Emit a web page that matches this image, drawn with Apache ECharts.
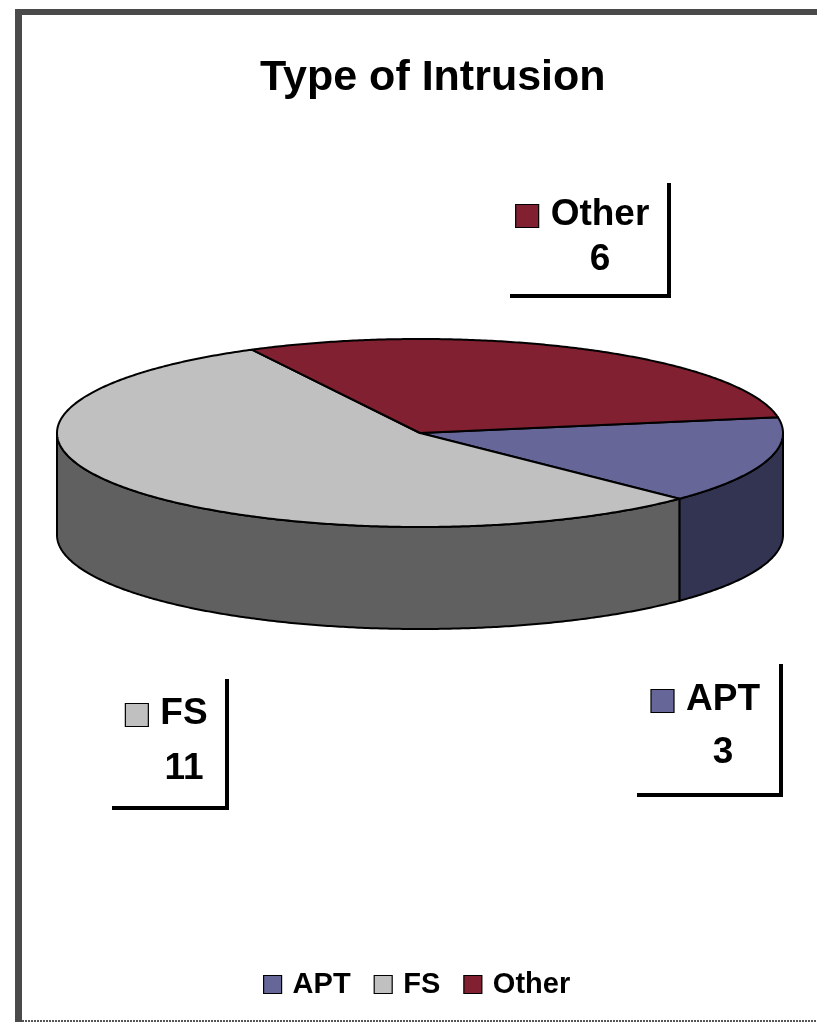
<!DOCTYPE html>
<html>
<head>
<meta charset="utf-8">
<title>Type of Intrusion</title>
<script src="https://cdn.jsdelivr.net/npm/echarts@6/dist/echarts.min.js"></script>
<style>
  html, body { margin: 0; padding: 0; background: #fff; }
  #chart { width: 817px; height: 1022px; }
</style>
</head>
<body>
<div id="chart"></div>
<script>
// Intrusion counts by type
const categories = ['APT', 'FS', 'Other'];
const values = [3, 11, 6];

// Top-face and side-face colours for each slice
const topColors = ['#666699', '#C0C0C0', '#802030'];
const sideColors = ['#333352', '#606060', '#401018'];

const FONT = '"Liberation Sans", Arial, Helvetica, sans-serif';

// Projected 3D pie: ellipse centre, radii, thickness and start angle (degrees, clockwise)
const pie = { cx: 420, cy: 433, rx: 363, ry: 94, depth: 102, startAngle: 9.6 };

// Where each data label box sits
const labelBoxes = {
  APT:   { cx: 723, nameY: 700, valueY: 753, left: 637, top: 664, right: 781, bottom: 795 },
  FS:    { cx: 184, nameY: 714, valueY: 769, left: 112, top: 679, right: 227, bottom: 808 },
  Other: { cx: 600, nameY: 215, valueY: 260, left: 510, top: 183, right: 669, bottom: 296 }
};

const total = values.reduce((a, b) => a + b, 0);
const sliceAngles = [];
let acc = pie.startAngle;
values.forEach(v => {
  const sweep = v / total * 360;
  sliceAngles.push({ from: acc - sweep, to: acc });
  acc -= sweep;
});

const measureCtx = document.createElement('canvas').getContext('2d');
function textWidth(str, size) {
  measureCtx.font = 'bold ' + size + 'px ' + FONT;
  return measureCtx.measureText(str).width;
}

function rimPoint(tDeg, dy) {
  const t = tDeg * Math.PI / 180;
  return [pie.cx + pie.rx * Math.cos(t), pie.cy - pie.ry * Math.sin(t) + (dy || 0)];
}

function arcPoints(a, b, dy) {
  // points from angle a to angle b (either direction), 0.5 degree steps
  const pts = [];
  const n = Math.max(2, Math.ceil(Math.abs(b - a) / 0.5));
  for (let k = 0; k <= n; k++) pts.push(rimPoint(a + (b - a) * k / n, dy));
  return pts;
}

function makeRenderItem(i) {
  return function (params, api) {
    const value = api.value(0);
    const name = categories[i];
    const ang = sliceAngles[i];
    const children = [];
    const edge = { stroke: '#000', lineWidth: 2, lineJoin: 'round' };

    // Visible (front) wall: portions of the arc with sin(t) < 0
    for (let k = -2; k <= 2; k++) {
      const lo = Math.max(ang.from, -180 + 360 * k);
      const hi = Math.min(ang.to, 360 * k);
      if (lo < hi) {
        const upper = arcPoints(lo, hi, 0);
        const lower = arcPoints(hi, lo, pie.depth);
        children.push({
          type: 'polygon',
          shape: { points: upper.concat(lower) },
          style: Object.assign({ fill: sideColors[i] }, edge)
        });
      }
    }

    // Top face
    children.push({
      type: 'polygon',
      shape: { points: [[pie.cx, pie.cy]].concat(arcPoints(ang.to, ang.from, 0)) },
      style: Object.assign({ fill: topColors[i] }, edge)
    });

    // Data label: shadowed box, colour key, name and value
    const box = labelBoxes[name];
    const nameSize = 37;
    const nameW = textWidth(name, nameSize);
    const sq = 23;
    children.push({
      type: 'rect',
      shape: { x: box.right - 2, y: box.top, width: 4, height: box.bottom - box.top + 2 },
      style: { fill: '#000' }
    });
    children.push({
      type: 'rect',
      shape: { x: box.left, y: box.bottom - 2, width: box.right - box.left + 2, height: 4 },
      style: { fill: '#000' }
    });
    children.push({
      type: 'rect',
      shape: { x: box.cx - nameW / 2 - 12 - sq, y: box.nameY - sq / 2 + 1, width: sq, height: sq },
      style: { fill: topColors[i], stroke: '#000', lineWidth: 1.2 }
    });
    children.push({
      type: 'text',
      style: {
        text: name, x: box.cx, y: box.nameY,
        align: 'center', verticalAlign: 'middle',
        font: 'bold ' + nameSize + 'px ' + FONT, fill: '#000'
      }
    });
    children.push({
      type: 'text',
      style: {
        text: String(value), x: box.cx, y: box.valueY,
        align: 'center', verticalAlign: 'middle',
        font: 'bold ' + nameSize + 'px ' + FONT, fill: '#000'
      }
    });

    return { type: 'group', children: children };
  };
}

const chart = echarts.init(document.getElementById('chart'), null, { renderer: 'canvas' });

chart.setOption({
  backgroundColor: '#fff',
  animation: false,
  title: {
    text: 'Type of Intrusion',
    left: 260,
    top: 57,
    padding: 0,
    textStyle: { fontFamily: FONT, fontSize: 43, fontWeight: 'bold', color: '#000' }
  },
  legend: {
    data: categories,
    left: 263,
    top: 970,
    padding: 0,
    orient: 'horizontal',
    icon: 'rect',
    itemWidth: 18,
    itemHeight: 18,
    itemGap: 23,
    selectedMode: false,
    itemStyle: { borderColor: '#000', borderWidth: 1.2 },
    textStyle: { fontFamily: FONT, fontSize: 29, fontWeight: 'bold', color: '#000', padding: [0, 0, 0, 6] }
  },
  graphic: [
    // chart frame
    { type: 'rect', shape: { x: 15, y: 9, width: 7, height: 1013 }, style: { fill: '#4a4a4a' }, silent: true },
    { type: 'rect', shape: { x: 15, y: 9, width: 802, height: 6 }, style: { fill: '#4a4a4a' }, silent: true },
    { type: 'line', shape: { x1: 22, y1: 1021, x2: 817, y2: 1021 }, style: { stroke: '#555', lineWidth: 2, lineDash: [2, 1] }, silent: true }
  ],
  series: categories.map((name, i) => ({
    type: 'custom',
    name: name,
    coordinateSystem: 'none',
    itemStyle: { color: topColors[i] },
    data: [{ name: name, value: [values[i]] }],
    renderItem: makeRenderItem(i),
    silent: true
  }))
});
</script>
</body>
</html>
